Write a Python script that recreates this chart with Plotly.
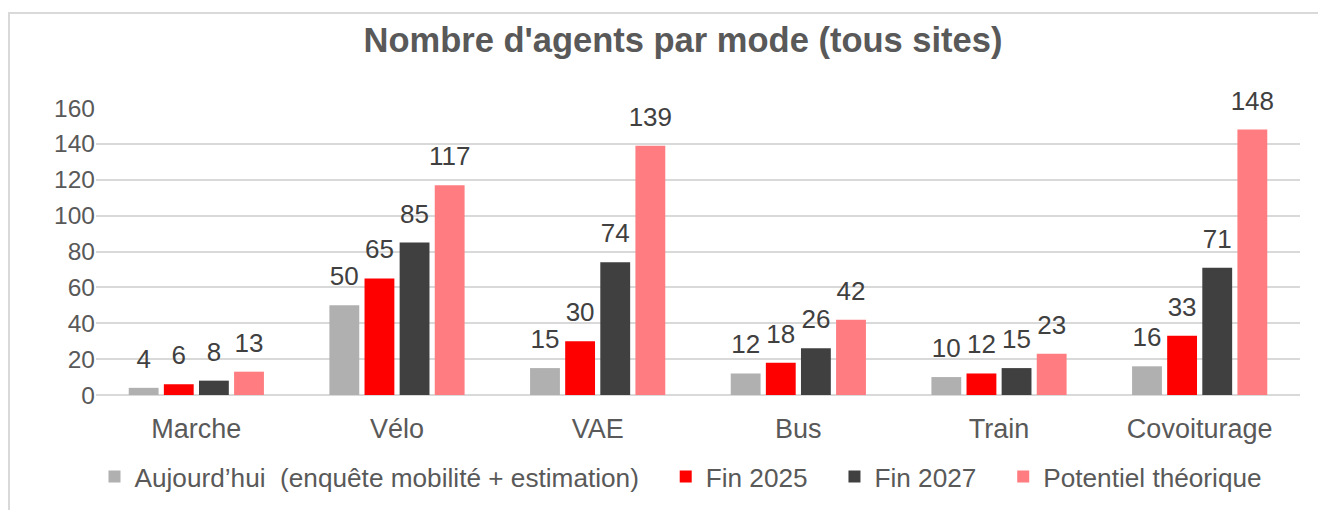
import plotly.graph_objects as go

categories = ["Marche", "Vélo", "VAE", "Bus", "Train", "Covoiturage"]
series_names = [
    "Aujourd’hui  (enquête mobilité + estimation)",
    "Fin 2025",
    "Fin 2027",
    "Potentiel théorique",
]
aujourdhui = [4, 50, 15, 12, 10, 16]
fin_2025 = [6, 65, 30, 18, 12, 33]
fin_2027 = [8, 85, 74, 26, 15, 71]
potentiel = [13, 117, 139, 42, 23, 148]
y_ticks = [0, 20, 40, 60, 80, 100, 120, 140, 160]

colors = ["#B0B0B0", "#FF0000", "#404040", "#FF7C80"]
series_values = [aujourdhui, fin_2025, fin_2027, potentiel]

FONT = "Liberation Sans, Arial, sans-serif"
PAD = "\u00a0\u00a0\u00a0"

fig = go.Figure()
for i, (name, vals, col) in enumerate(zip(series_names, series_values, colors)):
    fig.add_trace(go.Bar(
        x=categories, y=vals, name=name + (PAD if i < 3 else ""),
        marker=dict(color=col, line=dict(width=0)),
        offsetgroup=name, alignmentgroup="g",
    ))
for name, vals in zip(series_names, series_values):
    fig.add_trace(go.Scatter(
        x=categories, y=vals, mode="markers+text",
        text=[str(v) for v in vals], textposition="top center",
        textfont=dict(family=FONT, size=26, color="#404040"),
        marker=dict(size=20, opacity=0),
        offsetgroup=name, alignmentgroup="g",
        showlegend=False, hoverinfo="skip", cliponaxis=False,
    ))

L, R, T, B = 96, 18, 108, 115
W, H = 1318, 510
pw, ph = W - L - R, H - T - B

fig.update_layout(
    width=W, height=H,
    margin=dict(l=L, r=R, t=T, b=B, autoexpand=False),
    paper_bgcolor="white", plot_bgcolor="white",
    barmode="group", bargap=0.30, bargroupgap=0.15,
    scattermode="group", scattergap=0.30,
    title=dict(
        text="<b>Nombre d'agents par mode (tous sites)</b>",
        x=683 / W, xanchor="center", y=1 - 40 / H, yanchor="middle",
        font=dict(family=FONT, size=34.5, color="#595959"),
    ),
    font=dict(family=FONT, color="#595959"),
    xaxis=dict(
        showgrid=False, showline=False, ticks="outside", ticklen=10,
        tickcolor="rgba(0,0,0,0)", tickangle=0, automargin=False,
        tickfont=dict(family=FONT, size=27, color="#595959"),
    ),
    yaxis=dict(
        range=[0, 160], tickvals=y_ticks, automargin=False,
        showgrid=True, gridcolor="#D9D9D9", gridwidth=1.5,
        zeroline=True, zerolinecolor="#D9D9D9", zerolinewidth=1.5,
        showline=False, ticks="", ticklen=0,
        tickfont=dict(family=FONT, size=24.5, color="#595959"),
    ),
    legend=dict(
        orientation="h", x=(681 - L) / pw, xanchor="center",
        y=-(477 - 395) / ph, yanchor="middle",
        font=dict(family=FONT, size=26.2, color="#595959"),
        itemwidth=30, traceorder="normal",
    ),
    shapes=[dict(
        type="rect", xref="paper", yref="paper",
        x0=(9 - L) / pw, x1=(W + 10 - L) / pw,
        y0=-(H + 10 - ph - T) / ph, y1=(ph + T - 13) / ph,
        line=dict(color="#D9D9D9", width=2), fillcolor="rgba(0,0,0,0)",
        layer="below",
    )],
)

fig.write_html("out.html")
